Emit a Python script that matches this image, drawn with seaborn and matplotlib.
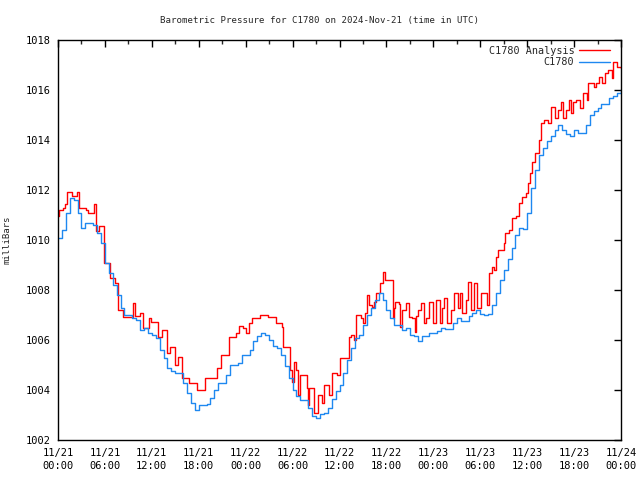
import matplotlib
matplotlib.use("Agg")
import matplotlib.pyplot as plt
import matplotlib.dates as mdates
import seaborn as sns
import pandas as pd
import numpy as np

# ---- data (hours since 2024-11-21 00:00 UTC) ----
obs_hours = [i * 0.5 for i in range(145)]
obs_values = [
    1010.1, 1010.4, 1011.1, 1011.7, 1011.6, 1011.1, 1010.5, 1010.7, 1010.7, 1010.6,
    1010.3, 1009.9, 1009.1, 1008.7, 1008.2, 1007.8, 1007.3, 1007.0, 1007.0, 1006.9,
    1006.8, 1006.4, 1006.5, 1006.3, 1006.2, 1006.1, 1005.6, 1005.3, 1004.9, 1004.75,
    1004.7, 1004.7, 1004.3, 1003.9, 1003.5, 1003.2, 1003.4, 1003.4, 1003.45, 1003.7,
    1004.0, 1004.3, 1004.3, 1004.6, 1005.0, 1005.0, 1005.1, 1005.4, 1005.4, 1005.6,
    1005.95, 1006.15, 1006.27, 1006.2, 1006.0, 1005.75, 1005.7, 1005.4, 1004.95, 1004.5,
    1004.0, 1003.75, 1003.6, 1003.6, 1003.3, 1002.95, 1002.9, 1003.05, 1003.1, 1003.3,
    1003.65, 1003.95, 1004.2, 1004.7, 1005.2, 1005.7, 1006.1, 1006.2, 1006.6, 1007.0,
    1007.3, 1007.6, 1007.9, 1007.6, 1007.2, 1006.9, 1006.6, 1006.6, 1006.4, 1006.5,
    1006.2, 1006.15, 1005.95, 1006.15, 1006.15, 1006.3, 1006.3, 1006.35, 1006.5, 1006.45,
    1006.45, 1006.7, 1006.9, 1006.75, 1006.75, 1006.95, 1007.1, 1007.2, 1007.05, 1007.0,
    1007.05, 1007.4, 1007.9, 1008.4, 1008.8, 1009.25, 1009.7, 1010.2, 1010.5, 1010.45,
    1011.1, 1012.1, 1012.8, 1013.4, 1013.7, 1013.95, 1014.15, 1014.4, 1014.6, 1014.4,
    1014.25, 1014.15, 1014.4, 1014.3, 1014.3, 1014.6, 1015.0, 1015.15, 1015.3, 1015.45,
    1015.45, 1015.7, 1015.75, 1015.9, 1016.0,
]

ana_hours = [
    0.0, 0.1, 0.6, 0.9, 1.2, 1.8, 2.4, 2.7, 3.6, 3.9, 4.6, 4.8, 5.3, 5.9, 6.6, 7.3, 7.7,
    8.3, 9.6, 9.8, 10.5, 10.9, 11.6, 11.9, 12.8, 13.3, 13.9, 14.3, 14.9, 15.4, 15.8,
    16.8, 17.8, 18.8, 20.3, 20.8, 21.9, 22.8, 23.2, 23.7, 24.0, 24.4, 24.8, 25.8, 26.9,
    27.9, 28.6, 28.8, 29.7, 29.9, 30.2, 30.5, 30.7, 30.9, 31.9, 32.0, 32.1, 32.8, 33.2,
    33.8, 34.0, 34.7, 35.0, 35.7, 36.1, 37.2, 37.5, 37.9, 38.1, 38.8, 39.0, 39.2, 39.5,
    39.8, 40.1, 40.4, 40.7, 41.2, 41.5, 41.8, 42.8, 42.9, 43.0, 43.1, 43.6, 43.8, 44.0,
    44.5, 44.9, 45.3, 45.6, 45.8, 46.1, 46.4, 46.8, 47.1, 47.5, 48.0, 48.4, 48.8, 49.1,
    49.4, 49.8, 50.3, 50.7, 51.1, 51.4, 51.7, 52.2, 52.4, 52.8, 53.2, 53.6, 54.1, 54.8,
    55.1, 55.5, 55.8, 56.0, 56.3, 57.0, 57.2, 57.7, 58.1, 58.6, 58.9, 59.3, 59.8, 60.1,
    60.3, 60.6, 61.0, 61.5, 61.8, 62.1, 62.7, 63.0, 63.6, 63.9, 64.3, 64.6, 65.0, 65.3,
    65.6, 65.9, 66.3, 66.7, 67.2, 67.6, 67.8, 68.5, 68.8, 69.2, 69.6, 69.9, 70.3, 70.8,
    71.0, 71.5, 72.0,
]
ana_values = [
    1010.95, 1011.2, 1011.3, 1011.45, 1011.93, 1011.77, 1011.93, 1011.3, 1011.2, 1011.07,
    1011.45, 1010.35, 1010.55, 1009.1, 1008.5, 1008.27, 1007.2, 1006.93, 1007.5, 1006.95,
    1007.1, 1006.5, 1006.9, 1006.73, 1006.13, 1006.4, 1005.47, 1005.73, 1005.0, 1005.33,
    1004.47, 1004.27, 1004.0, 1004.5, 1004.87, 1005.4, 1006.13, 1006.3, 1006.55, 1006.5,
    1006.27, 1006.67, 1006.87, 1007.0, 1006.93, 1006.67, 1006.53, 1005.73, 1004.8, 1004.33,
    1005.13, 1004.8, 1003.8, 1004.6, 1004.07, 1003.4, 1004.07, 1003.07, 1003.8, 1003.47,
    1004.2, 1003.8, 1004.67, 1004.6, 1005.27, 1006.13, 1006.2, 1006.0, 1007.0, 1006.9,
    1006.67, 1007.07, 1007.8, 1007.4, 1007.33, 1007.53, 1007.87, 1008.27, 1008.73, 1008.4,
    1008.4, 1006.87, 1007.27, 1007.53, 1007.45, 1006.53, 1007.2, 1007.47, 1006.93, 1006.9,
    1006.33, 1006.95, 1007.2, 1007.47, 1006.67, 1006.9, 1007.53, 1006.7, 1007.6, 1006.7,
    1007.3, 1007.7, 1006.67, 1007.2, 1007.87, 1007.27, 1007.9, 1007.1, 1007.6, 1008.33,
    1007.2, 1008.3, 1007.3, 1007.87, 1007.4, 1008.67, 1008.93, 1008.8, 1009.33, 1009.6,
    1009.87, 1010.27, 1010.4, 1010.87, 1010.95, 1011.47, 1011.73, 1011.87, 1012.27, 1012.67,
    1013.13, 1013.47, 1014.0, 1014.67, 1014.8, 1014.7, 1015.33, 1014.9, 1015.2, 1015.53,
    1014.87, 1015.2, 1015.6, 1015.1, 1015.53, 1015.6, 1015.27, 1015.87, 1015.6, 1016.27,
    1016.13, 1016.27, 1016.53, 1016.27, 1016.67, 1016.8, 1016.5, 1017.13, 1016.93, 1016.9,
]

y_ticks = [1002, 1004, 1006, 1008, 1010, 1012, 1014, 1016, 1018]
title = "Barometric Pressure for C1780 on 2024-Nov-21 (time in UTC)"
start = pd.Timestamp("2024-11-21 00:00")

obs = pd.DataFrame({"time": start + pd.to_timedelta(obs_hours, unit="h"),
                    "value": obs_values})
ana = pd.DataFrame({"time": start + pd.to_timedelta(ana_hours, unit="h"),
                    "value": ana_values})

sns.set_style("white")
plt.rcParams["font.family"] = ["DejaVu Sans Mono"]
plt.rcParams["font.size"] = 7

fig = plt.figure(figsize=(6.4, 4.8), dpi=100)
ax = fig.add_axes([58 / 640, 40 / 480, 563 / 640, 400 / 480])

sns.lineplot(data=ana, x="time", y="value", ax=ax, color="#ff0000", lw=1.0,
             drawstyle="steps-post", label="C1780 Analysis", estimator=None)
sns.lineplot(data=obs, x="time", y="value", ax=ax, color="#1e88f0", lw=1.0,
             drawstyle="steps-post", label="C1780", estimator=None)

ax.set_xlim(start, start + pd.Timedelta(hours=72))
ax.set_ylim(1002, 1018)
ax.set_yticks(y_ticks)
ax.set_yticklabels([str(v) for v in y_ticks])
ax.xaxis.set_major_locator(mdates.HourLocator(byhour=[0, 6, 12, 18]))
ax.xaxis.set_minor_locator(mdates.HourLocator(byhour=[3, 9, 15, 21]))
ax.xaxis.set_major_formatter(mdates.DateFormatter("%m/%d\n%H:%M"))

for s in ax.spines.values():
    s.set_color("black")
    s.set_linewidth(1.0)
ax.tick_params(axis="both", which="major", direction="in", length=5, width=1,
               top=True, right=True, labelsize=7.5, colors="black")
ax.tick_params(axis="both", which="minor", direction="in", length=3, width=1,
               top=True, right=True)
ax.tick_params(axis="x", pad=6)
ax.tick_params(axis="y", pad=5)
for lbl in ax.get_xticklabels():
    lbl.set_linespacing(1.3)

ax.set_xlabel("")
ax.set_ylabel("milliBars", fontsize=6.5)
ax.yaxis.set_label_coords(-(58 - 12) / 563, 0.5)
fig.text(0.5, 1 - 20 / 480, title, ha="center", va="center", fontsize=6.6)

leg = ax.legend(loc="upper right", bbox_to_anchor=(1 - 4 / 563, 1 + 1.5 / 400),
                frameon=False, markerfirst=False, fontsize=7.3,
                handlelength=3.0, borderaxespad=0.5, labelspacing=0.15,
                handletextpad=0.5, borderpad=0.2)
for t in leg.get_texts():
    t.set_ha("right")
leg._legend_box.align = "right"

fig.savefig("out.png", dpi=100)
